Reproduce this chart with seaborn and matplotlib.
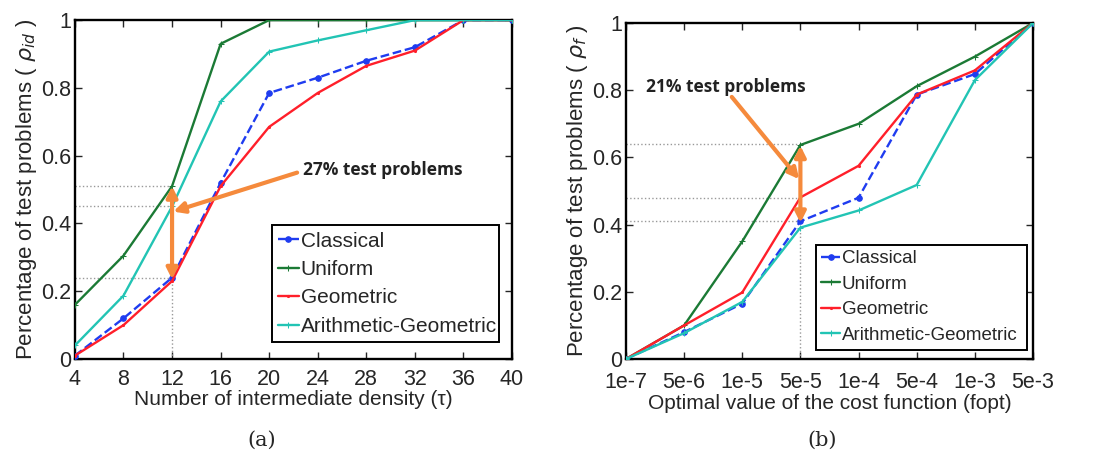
import numpy as np
import pandas as pd
import matplotlib
matplotlib.use("Agg")
import matplotlib.pyplot as plt
import seaborn as sns

sns.set_style("ticks")
plt.rcParams['font.family'] = ['Liberation Sans', 'DejaVu Sans']
plt.rcParams['mathtext.fontset'] = 'dejavusans'

# (a) number of intermediate density
tau = [4, 8, 12, 16, 20, 24, 28, 32, 36, 40]
classical_a = [0.01, 0.12, 0.24, 0.52, 0.785, 0.83, 0.88, 0.92, 1.0, 1.0]
uniform_a = [0.16, 0.305, 0.51, 0.93, 1.0, 1.0, 1.0, 1.0, 1.0, 1.0]
geometric_a = [0.01, 0.10, 0.23, 0.51, 0.685, 0.785, 0.865, 0.91, 1.0, 1.0]
arith_geo_a = [0.04, 0.187, 0.45, 0.76, 0.907, 0.94, 0.97, 1.0, 1.0, 1.0]

# (b) optimal value of the cost function
fopt_labels = ['1e-7', '5e-6', '1e-5', '5e-5', '1e-4', '5e-4', '1e-3', '5e-3']
classical_b = [0.0, 0.08, 0.165, 0.41, 0.48, 0.787, 0.848, 1.0]
uniform_b = [0.0, 0.10, 0.35, 0.637, 0.70, 0.812, 0.90, 1.0]
geometric_b = [0.0, 0.10, 0.198, 0.481, 0.575, 0.787, 0.859, 1.0]
arith_geo_b = [0.0, 0.077, 0.17, 0.391, 0.442, 0.518, 0.83, 1.0]

names = ['Classical', 'Uniform', 'Geometric', 'Arithmetic-Geometric']
colors = ['#1f3cf0', '#1b7a35', '#ff1f2a', '#22c4b4']
styles = ['--', '-', '-', '-']
markers = ['o', '+', '.', '+']
msizes = [4, 4, 3, 4]
orange = '#f58a3c'

fig = plt.figure(figsize=(11.02, 4.63), dpi=100)
ax1 = fig.add_axes([0.068, 0.2246, 0.3966, 0.732])
ax2 = fig.add_axes([0.568, 0.2246, 0.3694, 0.7257])


def draw_series(ax, x, series):
    for name, ys, c, ls, mk, ms in zip(names, series, colors, styles, markers, msizes):
        df = pd.DataFrame({'x': x, 'y': ys})
        sns.lineplot(data=df, x='x', y='y', ax=ax, color=c, linestyle=ls,
                     linewidth=1.7, marker=mk, markersize=ms, markeredgecolor=c,
                     markerfacecolor=c, label=name, zorder=3)


def style_axes(ax, xpad):
    for s in ax.spines.values():
        s.set_linewidth(1.7)
        s.set_color('black')
    ax.tick_params(direction='in', top=True, right=True, length=5, width=1,
                   labelsize=15.5)
    ax.tick_params(axis='x', pad=xpad)
    ax.tick_params(axis='y', pad=3)
    ax.set_ylim(0, 1)
    ax.set_yticks([0, 0.2, 0.4, 0.6, 0.8, 1])
    ax.set_yticklabels(['0', '0.2', '0.4', '0.6', '0.8', '1'])


def make_legend(ax, anchor, size):
    leg = ax.legend(loc='lower left', bbox_to_anchor=anchor, mode='expand',
                    fontsize=size, frameon=True, fancybox=False,
                    handlelength=1.0, handletextpad=0.1, borderpad=0.3,
                    labelspacing=0.45, borderaxespad=0)
    leg.get_frame().set_edgecolor('black')
    leg.get_frame().set_linewidth(1.4)
    leg.get_frame().set_alpha(1)


# ---- panel (a)
draw_series(ax1, tau, [classical_a, uniform_a, geometric_a, arith_geo_a])
ax1.set_xlim(4, 40)
ax1.set_xticks(tau)
style_axes(ax1, 7)
for yv in [0.51, 0.45, 0.24]:
    ax1.plot([4, 12], [yv, yv], color='#999999', linestyle=':', linewidth=1, zorder=1)
ax1.plot([12, 12], [0, 0.24], color='#999999', linestyle=':', linewidth=1, zorder=1)
ax1.annotate('', xy=(12, 0.51), xytext=(12, 0.235),
             arrowprops=dict(arrowstyle='<|-|>', color=orange, lw=3,
                             mutation_scale=16, shrinkA=0, shrinkB=0), zorder=4)
ax1.annotate('', xy=(12.1, 0.435), xytext=(22.3, 0.55),
             arrowprops=dict(arrowstyle='-|>', color=orange, lw=3,
                             mutation_scale=16, shrinkA=0, shrinkB=0), zorder=4)
ax1.text(22.8, 0.558, '27% test problems', fontsize=12.5, fontweight='bold',
         va='center', ha='left', color='#222222', family='Open Sans')
ax1.set_xlabel('Number of intermediate density (\u03c4)', fontsize=15, labelpad=0)
ax1.set_ylabel('Percentage of test problems ( $\\rho_{id}$ )', fontsize=16, labelpad=1)
make_legend(ax1, (0.45, 0.05, 0.52, 0.35), 15)

# ---- panel (b)
xb = list(range(len(fopt_labels)))
draw_series(ax2, xb, [classical_b, uniform_b, geometric_b, arith_geo_b])
ax2.set_xlim(0, 7)
ax2.set_xticks(xb)
ax2.set_xticklabels(fopt_labels)
style_axes(ax2, 9)
for yv in [0.64, 0.48, 0.41]:
    ax2.plot([0, 3], [yv, yv], color='#999999', linestyle=':', linewidth=1, zorder=1)
ax2.plot([3, 3], [0, 0.39], color='#999999', linestyle=':', linewidth=1, zorder=1)
ax2.annotate('', xy=(3.0, 0.635), xytext=(3.0, 0.405),
             arrowprops=dict(arrowstyle='<|-|>', color=orange, lw=3,
                             mutation_scale=16, shrinkA=0, shrinkB=0), zorder=4)
ax2.annotate('', xy=(2.98, 0.535), xytext=(1.82, 0.78),
             arrowprops=dict(arrowstyle='-|>', color=orange, lw=3,
                             mutation_scale=16, shrinkA=0, shrinkB=0), zorder=4)
ax2.text(0.34, 0.81, '21% test problems', fontsize=12.5, fontweight='bold',
         va='center', ha='left', color='#222222', family='Open Sans')
ax2.set_xlabel('Optimal value of the cost function (fopt)', fontsize=15, labelpad=1)
ax2.set_ylabel('Percentage of test problems ( $\\rho_f$ )', fontsize=16, labelpad=1)
make_legend(ax2, (0.466, 0.028, 0.52, 0.352), 13.5)

# captions
fig.text(262 / 1102, 1 - 440 / 463, '(a)', fontsize=15, ha='center', va='center',
         family='DejaVu Serif')
fig.text(822 / 1102, 1 - 440 / 463, '(b)', fontsize=15, ha='center', va='center',
         family='DejaVu Serif')

fig.savefig('out.png', dpi=100, facecolor='white')
